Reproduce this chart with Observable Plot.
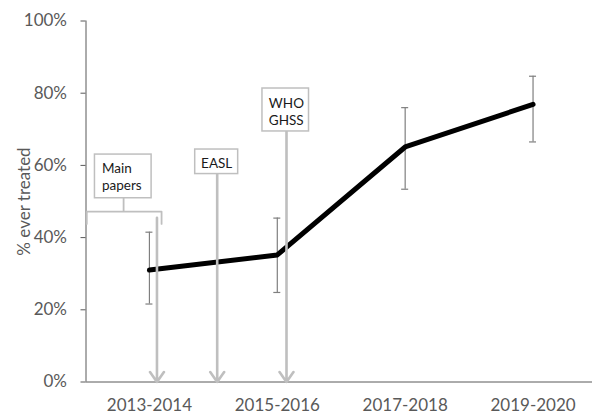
<!DOCTYPE html>
<html>
<head>
<meta charset="utf-8">
<script src="https://cdn.jsdelivr.net/npm/d3@7"></script>
<script src="https://cdn.jsdelivr.net/npm/@observablehq/plot@0.6"></script>
<style>
  html, body { margin: 0; padding: 0; background: #fff; }
  #chart svg { display: block; }
</style>
</head>
<body>
<div id="chart"></div>
<script>
// Share ever treated per period, with confidence interval
const categories = ["2013-2014", "2015-2016", "2017-2018", "2019-2020"];
const treated = [31.0, 35.2, 65.1, 76.9];
const lower = [21.6, 24.8, 53.4, 66.5];
const upper = [41.5, 45.4, 76.0, 84.7];
const yTicks = [0, 20, 40, 60, 80, 100];
const yLabel = "% ever treated";

// Guideline publications marked along the period axis (x in period index units, y in %)
const events = ["Main\npapers", "EASL", "WHO\nGHSS"];
const eventAt = [0.059, 0.530, 1.072];
const eventFrom = [45.5, 57.6, 69.4];
const boxLeft = [-0.426, 0.358, 0.884];
const boxRight = [0.017, 0.694, 1.248];
const boxBottom = [50.9, 57.6, 69.4];
const boxTop = [63.0, 64.4, 81.3];
const textAt = [-0.371, 0.526, 0.934];
const textY = [57.1, 60.7, 75.0];
const textAlign = ["start", "middle", "start"];
// bracket under "Main papers" spanning the earlier literature
const bracketX = [-0.49, -0.49, 0.095, 0.095];
const bracketY = [43.8, 47.2, 47.2, 43.8];
const bracketStem = -0.202;

const rows = categories.map((c, i) => ({i, c, v: treated[i], lo: lower[i], hi: upper[i]}));
const notes = events.map((e, i) => ({
  e, at: eventAt[i], from: eventFrom[i],
  x1: boxLeft[i], x2: boxRight[i], y1: boxBottom[i], y2: boxTop[i],
  tx: textAt[i], ty: textY[i], align: textAlign[i]
}));
const bracket = bracketX.map((x, k) => ({x, y: bracketY[k]}));

const gray = "#595959";
const light = "#bfbfbf";
const font = "Lato, 'Open Sans', sans-serif";

const noteText = align => Plot.text(notes.filter(d => d.align === align), {
  x: "tx", y: "ty", text: "e", textAnchor: align,
  fill: "#1a1a1a", fontSize: 13.5, lineHeight: 1.25, fontFamily: font
});

const chart = Plot.plot({
  width: 592,
  height: 414,
  marginLeft: 85.5,
  marginRight: 0,
  marginTop: 20.5,
  marginBottom: 32.5,
  style: {fontFamily: font, background: "#fff", overflow: "visible"},
  x: {type: "linear", domain: [-0.496, 3.465]},
  y: {type: "linear", domain: [0, 100]},
  marks: [
    // axes
    Plot.ruleX([-0.496], {y1: 0, y2: 100, stroke: gray, strokeWidth: 1}),
    Plot.ruleY([0], {stroke: gray, strokeWidth: 1}),
    Plot.axisY({
      ticks: yTicks, tickFormat: d => d + "%", tickSize: 5, tickPadding: 14,
      stroke: gray, fill: gray, fontSize: 17, label: null
    }),
    Plot.text([yLabel], {
      frameAnchor: "left", textAnchor: "middle", dx: -61, rotate: -90,
      fill: gray, fontSize: 17, fontFamily: font
    }),
    Plot.axisX({
      ticks: categories.map((c, i) => i), tickFormat: i => categories[i],
      tickSize: 0, tickPadding: 17, fill: gray, fontSize: 17, label: null
    }),
    // confidence intervals
    Plot.ruleX(rows, {x: "i", y1: "lo", y2: "hi", stroke: "#7f7f7f", strokeWidth: 1.2}),
    Plot.ruleY(rows, {x1: "i", x2: "i", y: "lo", stroke: "#7f7f7f", strokeWidth: 1.2, insetLeft: -3.5, insetRight: -3.5}),
    Plot.ruleY(rows, {x1: "i", x2: "i", y: "hi", stroke: "#7f7f7f", strokeWidth: 1.2, insetLeft: -3.5, insetRight: -3.5}),
    // trend line
    Plot.line(rows, {x: "i", y: "v", stroke: "#000", strokeWidth: 5, strokeLinecap: "round", strokeLinejoin: "round"}),
    // guideline markers
    Plot.line(bracket, {x: "x", y: "y", stroke: light, strokeWidth: 1.8}),
    Plot.ruleX([bracketStem], {y1: boxBottom[0], y2: bracketY[1], stroke: light, strokeWidth: 1.8}),
    Plot.arrow(notes, {
      x1: "at", x2: "at", y1: "from", y2: 0,
      stroke: light, strokeWidth: 2.6, headLength: 7, headAngle: 70
    }),
    Plot.rect(notes, {x1: "x1", x2: "x2", y1: "y1", y2: "y2", fill: "#fff", stroke: light, strokeWidth: 1.5}),
    noteText("start"),
    noteText("middle")
  ]
});

document.getElementById("chart").appendChild(chart);
</script>
</body>
</html>
